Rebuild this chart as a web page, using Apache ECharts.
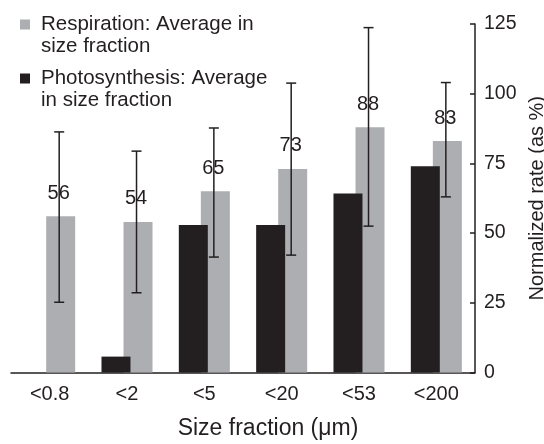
<!DOCTYPE html>
<html>
<head>
<meta charset="utf-8">
<script src="https://cdn.jsdelivr.net/npm/echarts@6/dist/echarts.min.js"></script>
<style>
  html, body { margin: 0; padding: 0; background: #fff; }
  #chart { width: 544px; height: 444px; }
</style>
</head>
<body>
<div id="chart"></div>
<script>
// Size fractions (µm) on the x axis
const categories = ['<0.8', '<2', '<5', '<20', '<53', '<200'];

// Normalized rates (%)
const respiration = [56, 54, 65, 73, 88, 83];
const photosynthesis = [null, 5.7, 52.9, 52.9, 64.2, 74];

// Error bar range for respiration
const errLow = [25.2, 28.6, 41.4, 42.1, 52.5, 63];
const errHigh = [86.3, 79.4, 87.7, 103.8, 123.7, 104];

// Legend text, one entry per line
const respLegend = ['Respiration: Average in', 'size fraction'];
const photoLegend = ['Photosynthesis: Average', 'in size fraction'];

const respName = respLegend.join(' ');
const photoName = photoLegend.join(' ');

const INK = '#231f20';
const GREY = '#adaeb1';
const FONT = '"Liberation Sans", Arial, Helvetica, sans-serif';

const BAR_W = 29;
const BAR_GAP = '-24%';
// horizontal shift of the respiration bar from the category centre
const RESP_SHIFT = (BAR_W + BAR_W * -0.24) / 2;

const chart = echarts.init(document.getElementById('chart'), null, { renderer: 'canvas' });

const errorData = categories.map((c, i) => [i, errLow[i], errHigh[i]]);

chart.setOption({
  animation: false,
  backgroundColor: '#ffffff',
  textStyle: { fontFamily: FONT, color: INK },
  grid: { left: 11, right: 69, top: 24, bottom: 71.5, outerBoundsMode: 'none', containLabel: false },
  legend: {
    orient: 'vertical',
    left: 20,
    top: 13.5,
    padding: 0,
    itemGap: 10,
    itemWidth: 16,
    itemHeight: 44,
    icon: 'path://M0,0h0.01v0.01h-0.01z M0,6h10v10h-10z M15.99,43.99h0.01v0.01h-0.01z',
    itemStyle: { borderWidth: 0 },
    selectedMode: false,
    data: [respName, photoName],
    formatter: function (name) {
      return name === respName ? respLegend.join('\n') : photoLegend.join('\n');
    },
    textStyle: { fontFamily: FONT, fontSize: 20.5, lineHeight: 22, color: INK }
  },
  xAxis: {
    type: 'category',
    data: categories,
    axisLine: { show: true, lineStyle: { color: INK, width: 1.5 } },
    axisTick: { show: false },
    axisLabel: { fontFamily: FONT, fontSize: 20, color: INK, margin: 12 },
    name: 'Size fraction (\u03bcm)',
    nameLocation: 'middle',
    nameGap: 45,
    nameTextStyle: { fontFamily: FONT, fontSize: 23, color: INK, padding: [0, 0, 0, 50] }
  },
  yAxis: {
    type: 'value',
    position: 'right',
    min: 0,
    max: 125,
    interval: 25,
    axisLine: { show: true, lineStyle: { color: INK, width: 1.5 } },
    axisTick: { show: true, inside: true, length: 5, lineStyle: { color: INK, width: 1.5 } },
    splitLine: { show: false },
    axisLabel: { fontFamily: FONT, fontSize: 19.5, color: INK, margin: 9 },
    name: 'Normalized rate (as %)',
    nameLocation: 'middle',
    nameRotate: 90,
    nameGap: 39,
    nameTextStyle: { fontFamily: FONT, fontSize: 20, color: INK }
  },
  series: [
    {
      name: photoName,
      type: 'bar',
      data: photosynthesis,
      barWidth: BAR_W,
      barGap: BAR_GAP,
      z: 3,
      itemStyle: { color: INK }
    },
    {
      name: respName,
      type: 'bar',
      data: respiration,
      barWidth: BAR_W,
      barGap: BAR_GAP,
      z: 2,
      itemStyle: { color: GREY },
      label: {
        show: true,
        position: 'top',
        distance: 13,
        offset: [-2, 0],
        fontFamily: FONT,
        fontSize: 20,
        color: INK
      }
    },
    {
      name: 'errors',
      type: 'custom',
      z: 4,
      silent: true,
      data: errorData,
      renderItem: function (params, api) {
        const idx = api.value(0);
        const lo = api.coord([idx, api.value(1)]);
        const hi = api.coord([idx, api.value(2)]);
        const x = lo[0] + RESP_SHIFT - 1.5;
        const cap = 5;
        const style = { stroke: INK, lineWidth: 1.5, fill: null };
        return {
          type: 'group',
          children: [
            { type: 'line', shape: { x1: x, y1: lo[1], x2: x, y2: hi[1] }, style: style },
            { type: 'line', shape: { x1: x - cap, y1: lo[1], x2: x + cap, y2: lo[1] }, style: style },
            { type: 'line', shape: { x1: x - cap, y1: hi[1], x2: x + cap, y2: hi[1] }, style: style }
          ]
        };
      }
    }
  ]
});
</script>
</body>
</html>
